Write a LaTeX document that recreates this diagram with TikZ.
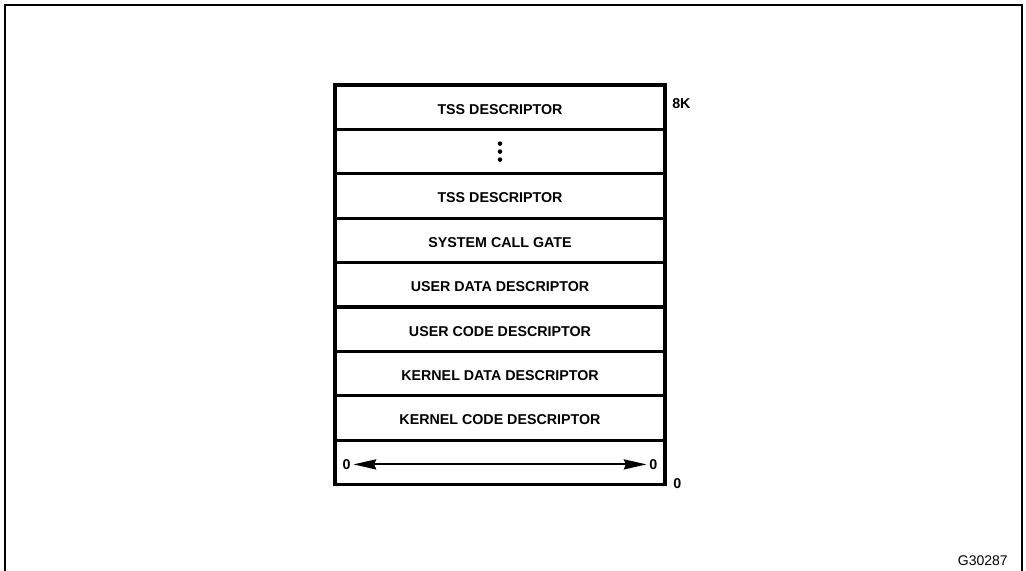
\documentclass[tikz,border=0pt]{standalone}
\usepackage{fontspec}
\setmainfont{Liberation Sans}
\usetikzlibrary{positioning,arrows.meta}

\begin{document}
\begin{tikzpicture}[x=0.75pt, y=-0.75pt, >={Stealth[length=17pt,width=7.5pt,inset=1.5pt]},
  slot/.style={draw, line width=2.4pt, minimum width=247.5pt, minimum height=33.3pt,
    inner sep=0pt, outer sep=0pt, text height=10.4pt, text depth=0pt,
    font=\bfseries\fontsize{10.7}{12}\selectfont},
  tag/.style={font=\bfseries\fontsize{10.7}{12}\selectfont, inner sep=0pt}]
  \useasboundingbox (0,0) rectangle (1026,571);

  % Outer frame, open at the bottom
  \draw[line width=2.2pt] (5,571) -- (5,5) -- (1022,5) -- (1022,571);

  % Descriptor table, top to bottom
  \node[slot] (tssa) at (500,107.2) {TSS DESCRIPTOR};
  \node[slot, below=0pt of tssa] (dots) {};
  \node[slot, below=0pt of dots] (tssb) {TSS DESCRIPTOR};
  \node[slot, below=0pt of tssb] (gate) {SYSTEM CALL GATE};
  \node[slot, below=0pt of gate] (udata) {USER DATA DESCRIPTOR};
  \node[slot, below=0pt of udata] (ucode) {USER CODE DESCRIPTOR};
  \node[slot, below=0pt of ucode] (kdata) {KERNEL DATA DESCRIPTOR};
  \node[slot, below=0pt of kdata] (kcode) {KERNEL CODE DESCRIPTOR};
  \node[slot, below=0pt of kcode] (null) {};

  % Ellipsis in the second slot
  \foreach \dy in {-8,0,8}
    \fill (dots.center) ++(0,\dy) circle (1.7pt);

  % Null descriptor: zero across the whole slot
  \node[tag, inner sep=2pt, text height=10.4pt, text depth=0pt, right=3.5pt of null.west] (zl) {0};
  \node[tag, inner sep=2pt, text height=10.4pt, text depth=0pt, left=3.5pt of null.east] (zr) {0};
  \draw[<->, line width=1.6pt] ([yshift=-1.5pt]zl.east) -- ([yshift=-1.5pt]zr.west);

  % Offsets at the right of the table
  \node[tag, anchor=west] (top) at (672,104) {8K};
  \node[tag, anchor=west] (bot) at (673,484) {0};

  % Figure number
  \node[anchor=east, inner sep=0pt, font=\fontsize{10.5}{12}\selectfont] (fig) at (1008,561) {G30287};
\end{tikzpicture}
\end{document}
